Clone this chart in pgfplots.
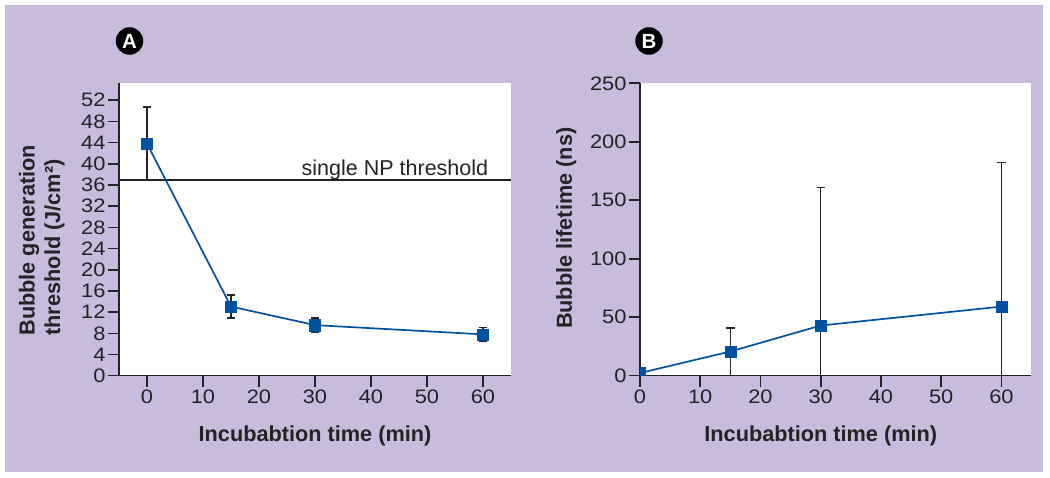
\documentclass[border=0pt]{standalone}
\usepackage{fontspec}
\setmainfont{Liberation Sans}
\newfontfamily\tickfont{Liberation Sans}[FakeStretch=1.12]
\usepackage{pgfplots}
\pgfplotsset{compat=1.18}
\usepackage{pgfplotstable}
\definecolor{lav}{RGB}{200,187,220}
\definecolor{ptblue}{RGB}{0,82,160}
\definecolor{axc}{RGB}{35,35,35}

\pgfplotstableread{
x y ep em
0 43.8 6.9 6.9
15 13.05 2.15 2.15
30 9.55 1.35 1.35
60 7.8 1.3 1.3
}\dataA
\pgfplotstableread{
x y ep em
0 2.3 0 0
15 20.7 19.9 20.7
30 42.9 117.9 42.9
60 59.1 123.0 59.1
}\dataB

\pgfplotsset{
 panel/.style={
  scale only axis, anchor=south west,
  axis x line*=bottom, axis y line*=left,
  axis line style={-, line width=1.6pt, color=axc},
  every tick/.style={line width=1.6pt, color=axc},
  tick align=outside, major tick length=11pt,
  axis background/.style={fill=white},
  tick label style={font=\tickfont\fontsize{19.5}{22}\selectfont, text=axc},
  yticklabel style={xshift=1pt},
  /pgf/number format/assume math mode=true,
  xtick={0,10,...,60},
  minor tick num=0,
  xlabel={Incubabtion time (min)},
  xlabel style={at={(axis cs:30,0)}, anchor=base, yshift=-66pt, font=\bfseries\fontsize{21.7}{25.5}\selectfont, text=axc},
  ylabel style={font=\bfseries\fontsize{21.7}{25.5}\selectfont, text=axc},
 },
 errs/.style={draw=none, mark=none, forget plot,
  error bars/.cd, y dir=both, y explicit,
  error bar style={draw=axc, line width=1.5pt},
  error mark options={draw=axc, rotate=90, mark size=4.2pt, line width=1.5pt}},
 series/.style={ptblue, line width=1.7pt, mark=square*, mark size=5.6pt,
  mark options={fill=ptblue, draw=ptblue, line width=0.4pt}},
}

\begin{document}
\begin{tikzpicture}
\fill[white] (0pt,0pt) rectangle (1050pt,478pt);
\path[use as bounding box] (0pt,0pt) rectangle (1050pt,478pt);
\fill[lav] (4.5pt,6pt) rectangle (1043pt,473pt);

% Panel A
\begin{axis}[panel, at={(119pt,102.3pt)}, width=392pt, height=292.4pt,
  xmin=-5, xmax=65, ymin=0, ymax=55.2,
  ytick={0,4,...,52},
  ylabel={Bubble generation\\threshold (J/cm²)},
  ylabel style={at={(axis cs:-22.9,7.54)}, anchor=north west, align=left, inner sep=0pt},
]
\addplot[axc, line width=1.5pt, forget plot] coordinates {(-5,36.9) (65,36.9)};
\addplot[errs] table[x=x, y=y, y error plus=ep, y error minus=em] {\dataA};
\addplot[series] table[x=x, y=y] {\dataA};
\node[anchor=base east, font=\fontsize{21.5}{25}\selectfont, text=axc] at (axis cs:61.55,37.8) {single NP threshold};
\end{axis}

% Panel B
\begin{axis}[panel, at={(640pt,102.3pt)}, width=391pt, height=292.4pt,
  xmin=0, xmax=64.9, ymin=0, ymax=250,
  ytick={0,50,...,250},
  clip marker paths=true,
  ylabel={Bubble lifetime (ns)},
  ylabel style={at={(axis cs:-11.3,126)}, anchor=base, inner sep=0pt},
]
\addplot[errs] table[x=x, y=y, y error plus=ep, y error minus=em] {\dataB};
\addplot[series] table[x=x, y=y] {\dataB};
\end{axis}

\node[circle, fill=black, minimum size=27.5pt, inner sep=0pt, text=white, font=\bfseries\fontsize{20.5}{21}\selectfont] at (129.5pt,437pt) {A};
\node[circle, fill=black, minimum size=27.5pt, inner sep=0pt, text=white, font=\bfseries\fontsize{20.5}{21}\selectfont] at (649pt,437pt) {B};
\end{tikzpicture}
\end{document}
